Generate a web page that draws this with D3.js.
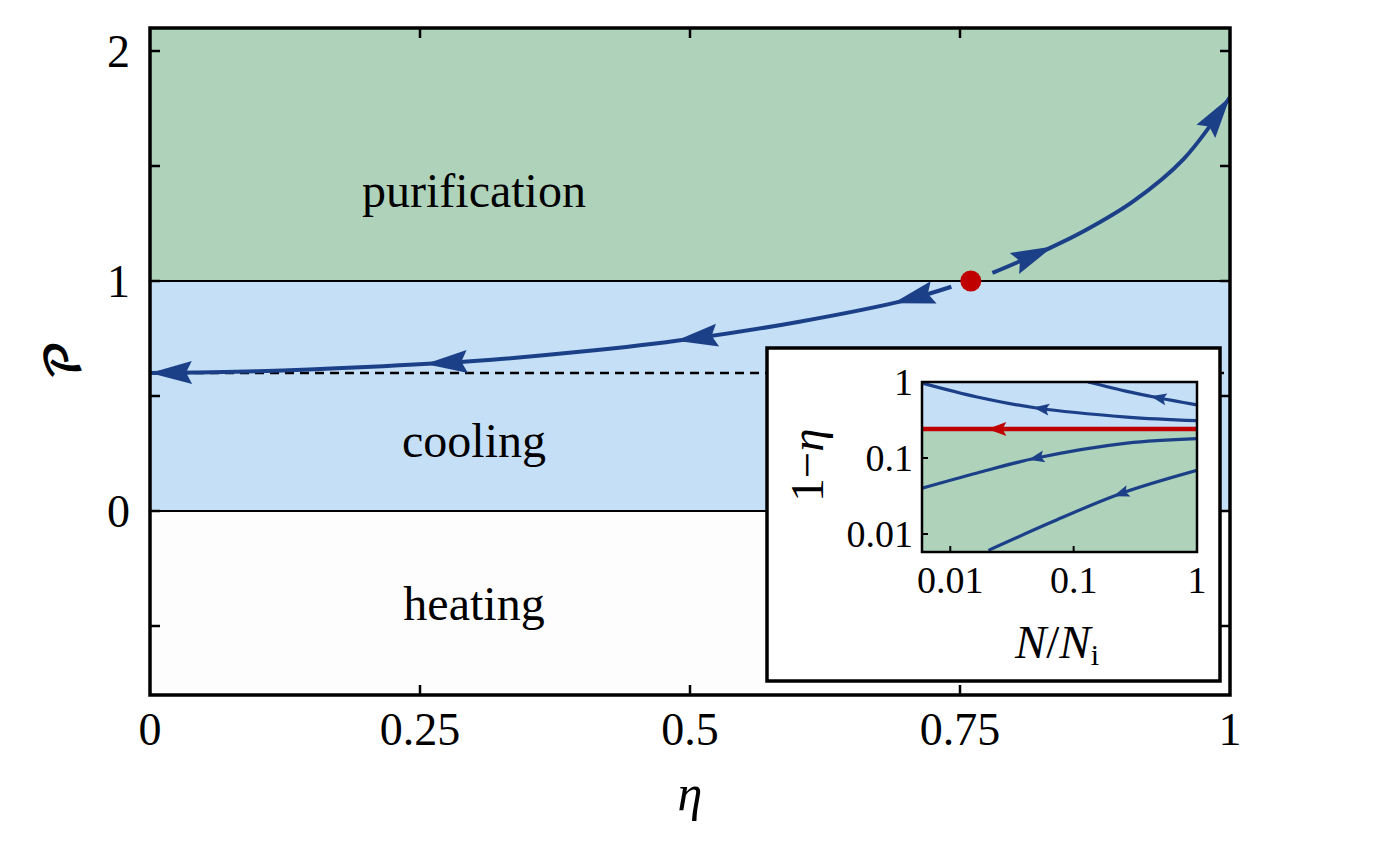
<!DOCTYPE html>
<html>
<head>
<meta charset="utf-8">
<script src="https://cdn.jsdelivr.net/npm/d3@7"></script>
<style>
  body { margin: 0; background: #fff; }
  text { font-family: "Liberation Serif", "Times New Roman", serif; fill: #000; }
</style>
</head>
<body>
<svg id="chart" width="1382" height="855"></svg>
<script>
// ---- main panel data (eta, purity P) ----
const etaLeft = [0, 0.1, 0.2, 0.3, 0.4, 0.5, 0.6, 0.7, 0.742];
const purityLeft = [0.600, 0.608, 0.626, 0.652, 0.693, 0.748, 0.822, 0.917, 0.975];
const etaRight = [0.78, 0.833, 0.864, 0.91, 0.957, 1.0];
const purityRight = [1.035, 1.143, 1.215, 1.345, 1.530, 1.80];
const leftArrowEta = [0.0, 0.255, 0.487, 0.688];
const rightArrowEta = [0.836, 1.0];
const fixedPoint = { eta: 0.76, purity: 1 };
const dashedLevel = 0.6;
const xTicks = [0, 0.25, 0.5, 0.75, 1];
const xTickLabels = ['0', '0.25', '0.5', '0.75', '1'];
const yMajor = [0, 1, 2];
const yMinor = [-0.5, 0.5, 1.5];
const regions = [
  { name: 'purification', from: 1, to: 2.1, color: '#afd2bb', labelP: 1.32 },
  { name: 'cooling', from: 0, to: 1, color: '#c5dff7', labelP: 0.235 },
  { name: 'heating', from: -0.8, to: 0, color: '#fdfdfd', labelP: -0.474 }
];

// ---- inset data (N/Ni, 1-eta), log-log ----
const insetCurves = [
  { ratio: [0.131, 0.27, 0.46, 1], oneMinusEta: [1.0, 0.753, 0.63, 0.50], arrow: 0.42 },
  { ratio: [0.0059, 0.0165, 0.05, 0.27, 1], oneMinusEta: [0.97, 0.635, 0.455, 0.346, 0.31], arrow: 0.047 },
  { ratio: [0.0059, 0.0165, 0.05, 0.27, 1], oneMinusEta: [0.040, 0.0635, 0.1, 0.157, 0.18], arrow: 0.043 },
  { ratio: [0.0204, 0.0687, 0.239, 1], oneMinusEta: [0.0061, 0.0147, 0.0339, 0.0687], arrow: 0.21 }
];
const redArrowRatio = 0.02;
const insetTicks = [0.01, 0.1, 1];
const insetTickLabels = ['0.01', '0.1', '1'];

const navy = '#1c4088';
const red = '#c00000';

const svg = d3.select('#chart');

// scales
const x = d3.scaleLinear().domain([0, 1]).range([150, 1230]);
const y = d3.scaleLinear().domain([-0.8, 2.1]).range([695, 28]);

// regions
svg.append('g').selectAll('rect')
  .data(regions)
  .join('rect')
  .attr('x', x(0))
  .attr('width', x(1) - x(0))
  .attr('y', d => y(d.to))
  .attr('height', d => y(d.from) - y(d.to))
  .attr('fill', d => d.color);

svg.append('line')
  .attr('x1', x(0)).attr('x2', x(1))
  .attr('y1', y(dashedLevel)).attr('y2', y(dashedLevel))
  .attr('stroke', '#000').attr('stroke-width', 2.5)
  .attr('stroke-dasharray', '9 6');

svg.append('g').selectAll('line')
  .data([0, 1])
  .join('line')
  .attr('x1', x(0)).attr('x2', x(1))
  .attr('y1', d => y(d)).attr('y2', d => y(d))
  .attr('stroke', '#000').attr('stroke-width', 2);

svg.append('g').selectAll('text')
  .data(regions)
  .join('text')
  .attr('x', x(0.3))
  .attr('y', d => y(d.labelP))
  .attr('text-anchor', 'middle')
  .style('font-size', '48px')
  .text(d => d.name);

// arrowhead along a path
function addArrow(g, node, tipX, pointsBack, len, hw, notch, color) {
  const total = node.getTotalLength();
  let lo = 0, hi = total;
  for (let k = 0; k < 40; k++) {
    const mid = (lo + hi) / 2;
    if (node.getPointAtLength(mid).x < tipX) lo = mid; else hi = mid;
  }
  const L = (lo + hi) / 2;
  const Lb = Math.max(0, Math.min(total, pointsBack ? L + len : L - len));
  const T = node.getPointAtLength(L);
  const B = node.getPointAtLength(Lb);
  const dx = T.x - B.x, dy = T.y - B.y;
  const m = Math.hypot(dx, dy);
  const ux = dx / m, uy = dy / m, nx = -uy, ny = ux;
  const pts = [
    [T.x, T.y],
    [T.x - ux * len + nx * hw, T.y - uy * len + ny * hw],
    [T.x - ux * (len - notch), T.y - uy * (len - notch)],
    [T.x - ux * len - nx * hw, T.y - uy * len - ny * hw]
  ];
  g.append('path').attr('d', d3.line()(pts) + 'Z').attr('fill', color);
}

const mainLine = d3.line().x(d => x(d[0])).y(d => y(d[1])).curve(d3.curveCatmullRom.alpha(0.5));
const curveG = svg.append('g');
const leftPath = curveG.append('path')
  .attr('d', mainLine(etaLeft.map((e, i) => [e, purityLeft[i]])))
  .attr('fill', 'none').attr('stroke', navy).attr('stroke-width', 4);
const rightPath = curveG.append('path')
  .attr('d', mainLine(etaRight.map((e, i) => [e, purityRight[i]])))
  .attr('fill', 'none').attr('stroke', navy).attr('stroke-width', 4);
leftArrowEta.forEach(e => addArrow(curveG, leftPath.node(), x(e), true, 42, 11.5, 6, navy));
rightArrowEta.forEach(e => addArrow(curveG, rightPath.node(), x(e) - 0.01, false, 42, 11.5, 6, navy));

svg.append('circle')
  .attr('cx', x(fixedPoint.eta)).attr('cy', y(fixedPoint.purity))
  .attr('r', 10.5).attr('fill', red);

// frame and ticks
svg.append('rect')
  .attr('x', x(0)).attr('y', y(2.1))
  .attr('width', x(1) - x(0)).attr('height', y(-0.8) - y(2.1))
  .attr('fill', 'none').attr('stroke', '#000').attr('stroke-width', 3.5);

const tickG = svg.append('g').attr('stroke', '#000').attr('stroke-width', 2.5);
const tl = 10;
xTicks.slice(1, -1).forEach(t => {
  tickG.append('line').attr('x1', x(t)).attr('x2', x(t)).attr('y1', y(-0.8)).attr('y2', y(-0.8) - tl);
  tickG.append('line').attr('x1', x(t)).attr('x2', x(t)).attr('y1', y(2.1)).attr('y2', y(2.1) + tl);
});
yMajor.concat(yMinor).forEach(t => {
  tickG.append('line').attr('x1', x(0)).attr('x2', x(0) + tl).attr('y1', y(t)).attr('y2', y(t));
  tickG.append('line').attr('x1', x(1)).attr('x2', x(1) - tl).attr('y1', y(t)).attr('y2', y(t));
});

svg.append('g').selectAll('text')
  .data(xTicks)
  .join('text')
  .attr('x', d => x(d)).attr('y', 745)
  .attr('text-anchor', 'middle')
  .style('font-size', '46px')
  .text((d, i) => xTickLabels[i]);

svg.append('g').selectAll('text')
  .data(yMajor)
  .join('text')
  .attr('x', 130).attr('y', d => y(d) + 16)
  .attr('text-anchor', 'end')
  .style('font-size', '46px')
  .text(d => d);

svg.append('text')
  .attr('x', 690).attr('y', 810)
  .attr('text-anchor', 'middle')
  .style('font-size', '50px').style('font-style', 'italic')
  .text('η');

svg.append('text')
  .attr('transform', 'translate(80,360) rotate(-90)')
  .attr('text-anchor', 'middle')
  .style('font-size', '46px')
  .style('font-weight', 'bold')
  .style('font-family', '"DejaVu Math TeX Gyre", "DejaVu Serif", "DejaVu Sans", serif')
  .text('𝒫');

// ---- inset ----
const inset = svg.append('g');
inset.append('rect')
  .attr('x', 767).attr('y', 348).attr('width', 453).attr('height', 333)
  .attr('fill', '#fff').attr('stroke', '#000').attr('stroke-width', 3.5);

const ix = d3.scaleLog().domain([0.0059, 1]).range([922, 1197]);
const iy = d3.scaleLog().domain([0.0058, 1]).range([552, 382]);
const sep = 1 - fixedPoint.eta;

svg.append('defs').append('clipPath').attr('id', 'insetClip')
  .append('rect').attr('x', ix(0.0059)).attr('y', iy(1))
  .attr('width', ix(1) - ix(0.0059)).attr('height', iy(0.0058) - iy(1));

const ip = inset.append('g').attr('clip-path', 'url(#insetClip)');
ip.append('rect')
  .attr('x', ix(0.0059)).attr('y', iy(1))
  .attr('width', ix(1) - ix(0.0059)).attr('height', iy(sep) - iy(1))
  .attr('fill', '#c5dff7');
ip.append('rect')
  .attr('x', ix(0.0059)).attr('y', iy(sep))
  .attr('width', ix(1) - ix(0.0059)).attr('height', iy(0.0058) - iy(sep))
  .attr('fill', '#afd2bb');

const insetLine = d3.line().x(d => ix(d[0])).y(d => iy(d[1])).curve(d3.curveCatmullRom.alpha(0.5));
insetCurves.forEach(c => {
  const p = ip.append('path')
    .attr('d', insetLine(c.ratio.map((r, i) => [r, c.oneMinusEta[i]])))
    .attr('fill', 'none').attr('stroke', navy).attr('stroke-width', 3.2);
  addArrow(ip, p.node(), ix(c.arrow), true, 16, 6, 3, navy);
});
const redPath = ip.append('path')
  .attr('d', insetLine([[0.0059, sep], [1, sep]]))
  .attr('fill', 'none').attr('stroke', red).attr('stroke-width', 4.5);
addArrow(ip, redPath.node(), ix(redArrowRatio), true, 19, 7, 4, red);

inset.append('rect')
  .attr('x', ix(0.0059)).attr('y', iy(1))
  .attr('width', ix(1) - ix(0.0059)).attr('height', iy(0.0058) - iy(1))
  .attr('fill', 'none').attr('stroke', '#000').attr('stroke-width', 2.5);

const itG = inset.append('g').attr('stroke', '#000').attr('stroke-width', 2);
insetTicks.slice(0, 2).forEach(t => {
  itG.append('line').attr('x1', ix(t)).attr('x2', ix(t)).attr('y1', iy(0.0058)).attr('y2', iy(0.0058) - 6);
  itG.append('line').attr('x1', ix(0.0059)).attr('x2', ix(0.0059) + 6).attr('y1', iy(t)).attr('y2', iy(t));
});

inset.append('g').selectAll('text')
  .data(insetTicks)
  .join('text')
  .attr('x', d => ix(d)).attr('y', 593)
  .attr('text-anchor', 'middle')
  .style('font-size', '38px')
  .text((d, i) => insetTickLabels[i]);

inset.append('g').selectAll('text')
  .data(insetTicks)
  .join('text')
  .attr('x', 913).attr('y', d => iy(d) + 13)
  .attr('text-anchor', 'end')
  .style('font-size', '38px')
  .text((d, i) => insetTickLabels[i]);

const nl = inset.append('text')
  .attr('x', 1057).attr('y', 658)
  .attr('text-anchor', 'middle')
  .style('font-size', '47px');
nl.append('tspan').style('font-style', 'italic').text('N');
nl.append('tspan').text('/');
nl.append('tspan').style('font-style', 'italic').text('N');
nl.append('tspan').attr('dy', 7).style('font-size', '30px').text('i');

const yl = inset.append('text')
  .attr('transform', 'translate(823,465) rotate(-90)')
  .attr('text-anchor', 'middle')
  .style('font-size', '47px');
yl.append('tspan').text('1−');
yl.append('tspan').style('font-style', 'italic').text('η');
</script>
</body>
</html>
